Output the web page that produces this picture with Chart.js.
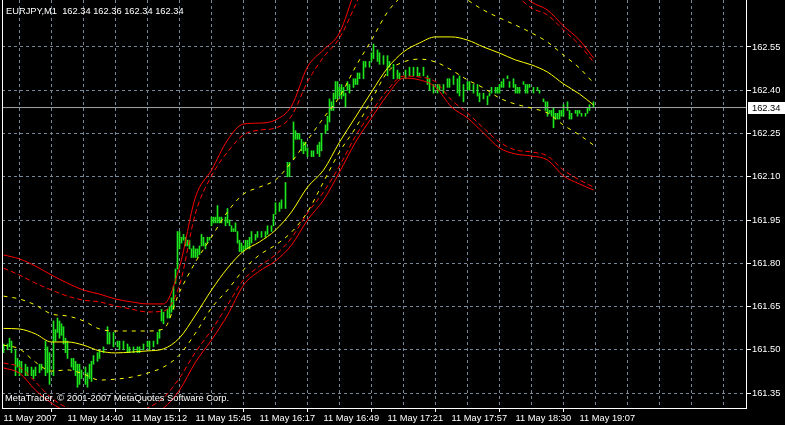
<!DOCTYPE html>
<html>
<head>
<meta charset="utf-8">
<script src="https://cdn.jsdelivr.net/npm/chart.js@4.4.1/dist/chart.umd.min.js"></script>
<style>
  html, body { margin: 0; padding: 0; background: #000; }
  #wrap { width: 785px; height: 425px; }
</style>
</head>
<body>
<div id="wrap"><canvas id="myChart" width="785" height="425"></canvas></div>
<script>
// EURJPY M1, minutes counted from the first bar
const headerText = 'EURJPY,M1  162.34 162.36 162.34 162.34'
const copyrightText = 'MetaTrader, \u00a9 2001-2007 MetaQuotes Software Corp.'
const currentPrice = 162.34

const labelMinutes = [0, 32, 64, 96, 128, 160, 192, 224, 256, 288]
const timeLabels = ['11 May 2007', '11 May 14:40', '11 May 15:12', '11 May 15:45', '11 May 16:17',
  '11 May 16:49', '11 May 17:21', '11 May 17:57', '11 May 18:30', '11 May 19:07']
const priceTicks = [161.35, 161.50, 161.65, 161.80, 161.95, 162.10, 162.25, 162.40, 162.55]

// price bars
const barMinute = [
  0, 2, 3, 4, 6, 7, 8, 9, 11, 12,
  14, 15, 16, 18, 19, 21, 22, 23, 25, 26,
  27, 28, 29, 30, 31, 32, 34, 35, 36, 37,
  38, 39, 41, 42, 43, 44, 45, 47, 48, 50,
  52, 53, 55, 57, 58, 60, 62, 63, 65, 67,
  68, 70, 72, 73, 75, 77, 78, 79, 80, 82,
  83, 84, 85, 86, 87, 88, 89, 90, 91, 92,
  93, 94, 95, 96, 97, 98, 99, 100, 101, 102,
  103, 104, 105, 106, 107, 108, 109, 111, 112, 113,
  114, 115, 116, 117, 118, 119, 120, 121, 122, 123,
  124, 126, 127, 129, 131, 132, 134, 135, 136, 138,
  139, 141, 142, 143, 145, 146, 147, 148, 149, 150,
  151, 152, 154, 155, 157, 158, 159, 161, 162, 163,
  164, 165, 166, 167, 168, 169, 170, 171, 172, 173,
  175, 176, 177, 178, 180, 181, 183, 184, 185, 187,
  188, 190, 192, 193, 195, 197, 198, 201, 203, 205,
  207, 208, 210, 212, 213, 215, 217, 218, 220, 222,
  223, 225, 227, 228, 230, 232, 233, 235, 237, 238,
  240, 242, 243, 244, 246, 247, 248, 249, 250, 252,
  253, 255, 256, 257, 258, 260, 261, 262, 263, 265,
  267, 268, 270, 271, 272, 273, 274, 275, 276, 277,
  278, 279, 280, 282, 283, 284, 286, 287, 288, 289,
  291, 292, 293, 295]
const barHigh = [
  161.52, 161.52, 161.54, 161.53, 161.50, 161.47, 161.46, 161.46, 161.45, 161.44,
  161.44, 161.43, 161.44, 161.45, 161.45, 161.53, 161.51, 161.49, 161.60, 161.57,
  161.61, 161.60, 161.59, 161.58, 161.54, 161.53, 161.47, 161.47, 161.46, 161.45,
  161.45, 161.43, 161.44, 161.42, 161.45, 161.46, 161.48, 161.49, 161.50, 161.51,
  161.58, 161.56, 161.56, 161.53, 161.53, 161.53, 161.52, 161.51, 161.51, 161.51,
  161.51, 161.52, 161.53, 161.53, 161.53, 161.56, 161.57, 161.64, 161.63, 161.64,
  161.65, 161.68, 161.72, 161.78, 161.91, 161.91, 161.89, 161.90, 161.89, 161.88,
  161.88, 161.85, 161.86, 161.85, 161.85, 161.86, 161.90, 161.89, 161.87, 161.89,
  161.89, 161.96, 161.96, 161.96, 162.00, 161.96, 161.96, 161.96, 161.99, 161.95,
  161.93, 161.92, 161.94, 161.91, 161.88, 161.87, 161.86, 161.88, 161.88, 161.89,
  161.91, 161.90, 161.91, 161.91, 161.91, 161.93, 161.93, 161.97, 162.01, 162.01,
  162.02, 162.08, 162.15, 162.15, 162.29, 162.26, 162.25, 162.25, 162.23, 162.22,
  162.22, 162.20, 162.19, 162.19, 162.21, 162.22, 162.25, 162.28, 162.31, 162.37,
  162.36, 162.39, 162.43, 162.43, 162.41, 162.42, 162.41, 162.39, 162.43, 162.42,
  162.44, 162.44, 162.46, 162.46, 162.50, 162.50, 162.50, 162.53, 162.56, 162.54,
  162.53, 162.52, 162.52, 162.50, 162.49, 162.47, 162.46, 162.47, 162.48, 162.48,
  162.48, 162.46, 162.48, 162.45, 162.44, 162.42, 162.42, 162.42, 162.42, 162.44,
  162.44, 162.45, 162.44, 162.45, 162.42, 162.43, 162.43, 162.42, 162.42, 162.39,
  162.39, 162.38, 162.39, 162.41, 162.41, 162.41, 162.42, 162.43, 162.44, 162.45,
  162.43, 162.44, 162.42, 162.41, 162.41, 162.43, 162.42, 162.42, 162.42, 162.41,
  162.41, 162.40, 162.37, 162.36, 162.36, 162.33, 162.33, 162.34, 162.32, 162.32,
  162.33, 162.33, 162.35, 162.36, 162.33, 162.32, 162.33, 162.33, 162.33, 162.32,
  162.32, 162.34, 162.35, 162.36]
const barLow = [
  161.49, 161.50, 161.51, 161.49, 161.41, 161.44, 161.41, 161.42, 161.41, 161.41,
  161.41, 161.40, 161.41, 161.42, 161.43, 161.41, 161.42, 161.38, 161.41, 161.53,
  161.56, 161.54, 161.55, 161.52, 161.49, 161.47, 161.44, 161.43, 161.41, 161.37,
  161.38, 161.40, 161.38, 161.37, 161.40, 161.39, 161.45, 161.46, 161.47, 161.49,
  161.52, 161.52, 161.51, 161.51, 161.50, 161.50, 161.49, 161.49, 161.49, 161.49,
  161.49, 161.50, 161.51, 161.50, 161.51, 161.52, 161.54, 161.60, 161.59, 161.61,
  161.61, 161.63, 161.64, 161.73, 161.78, 161.85, 161.87, 161.88, 161.86, 161.86,
  161.85, 161.82, 161.82, 161.82, 161.82, 161.83, 161.86, 161.86, 161.85, 161.87,
  161.88, 161.93, 161.94, 161.94, 161.94, 161.94, 161.94, 161.93, 161.94, 161.93,
  161.91, 161.91, 161.91, 161.87, 161.84, 161.84, 161.84, 161.85, 161.85, 161.85,
  161.87, 161.88, 161.89, 161.89, 161.89, 161.90, 161.91, 161.93, 161.97, 161.98,
  161.99, 161.99, 162.10, 162.10, 162.16, 162.23, 162.23, 162.23, 162.19, 162.18,
  162.19, 162.17, 162.17, 162.17, 162.18, 162.17, 162.19, 162.25, 162.26, 162.29,
  162.33, 162.33, 162.37, 162.37, 162.38, 162.37, 162.38, 162.34, 162.40, 162.39,
  162.41, 162.42, 162.42, 162.44, 162.44, 162.48, 162.48, 162.50, 162.51, 162.50,
  162.49, 162.49, 162.45, 162.48, 162.44, 162.44, 162.44, 162.44, 162.45, 162.45,
  162.45, 162.45, 162.45, 162.42, 162.40, 162.39, 162.39, 162.40, 162.39, 162.41,
  162.41, 162.42, 162.39, 162.38, 162.36, 162.40, 162.40, 162.39, 162.38, 162.36,
  162.37, 162.35, 162.38, 162.39, 162.39, 162.39, 162.39, 162.41, 162.41, 162.44,
  162.41, 162.41, 162.39, 162.39, 162.39, 162.42, 162.39, 162.39, 162.41, 162.39,
  162.40, 162.39, 162.36, 162.33, 162.31, 162.32, 162.31, 162.27, 162.30, 162.30,
  162.30, 162.31, 162.31, 162.33, 162.30, 162.30, 162.32, 162.31, 162.32, 162.31,
  162.31, 162.32, 162.33, 162.34]

// indicator lines, read every 8 bars
const lineMinutes = [0, 8, 16, 24, 32, 40, 48, 56, 64, 72, 80, 88, 96, 104, 112, 120, 128, 136, 144,
  152, 160, 168, 176, 184, 192, 200, 208, 216, 224, 232, 240, 248, 256, 264, 272, 280, 288, 295]
const maCenter = [161.574, 161.572, 161.555, 161.527, 161.527, 161.516, 161.496, 161.489, 161.492, 161.496,
  161.503, 161.541, 161.620, 161.707, 161.783, 161.842, 161.874, 161.915, 161.978, 162.064,
  162.123, 162.220, 162.307, 162.394, 162.477, 162.533, 162.564, 162.585, 162.585, 162.574,
  162.550, 162.529, 162.505, 162.488, 162.463, 162.422, 162.387, 162.349]
const envUpper = [161.686, 161.676, 161.655, 161.624, 161.617, 161.600, 161.572, 161.565, 161.565, 161.565,
  161.572, 161.700, 161.804, 161.891, 161.978, 162.040, 162.064, 162.089, 162.151, 162.227,
  162.304, 162.377, 162.481, 162.574, 162.671, 162.730, 162.758, 162.765, 162.748, 162.713,
  162.678, 162.651, 162.626, 162.599, 162.567, 162.522, 162.477, 162.425]
const envLower = [161.516, 161.503, 161.457, 161.426, 161.430, 161.416, 161.395, 161.398, 161.405, 161.419,
  161.440, 161.482, 161.558, 161.645, 161.707, 161.777, 161.829, 161.863, 161.908, 161.978,
  162.082, 162.186, 162.269, 162.366, 162.463, 162.498, 162.508, 162.498, 162.470, 162.436,
  162.408, 162.373, 162.352, 162.338, 162.321, 162.279, 162.245, 162.210]
const bandUpper = [161.829, 161.815, 161.790, 161.759, 161.731, 161.707, 161.693, 161.676, 161.666, 161.659,
  161.659, 161.787, 162.030, 162.123, 162.227, 162.283, 162.286, 162.297, 162.345, 162.481,
  162.540, 162.599, 162.748, 162.852, 162.921, 162.956, 162.956, 162.939, 162.904, 162.869,
  162.834, 162.800, 162.755, 162.706, 162.678, 162.623, 162.574, 162.512]
const bandUpperAlt = [161.783, 161.759, 161.731, 161.707, 161.686, 161.672, 161.666, 161.652, 161.641, 161.631,
  161.634, 161.724, 161.974, 162.103, 162.186, 162.245, 162.262, 162.269, 162.311, 162.429,
  162.515, 162.581, 162.696, 162.817, 162.887, 162.921, 162.921, 162.904, 162.869, 162.834,
  162.800, 162.765, 162.730, 162.685, 162.661, 162.609, 162.557, 162.498]
const bandLower = [161.437, 161.419, 161.360, 161.315, 161.284, 161.263, 161.253, 161.253, 161.260, 161.274,
  161.298, 161.360, 161.457, 161.534, 161.620, 161.724, 161.773, 161.808, 161.863, 161.950,
  162.019, 162.116, 162.220, 162.304, 162.384, 162.442, 162.436, 162.411, 162.342, 162.304,
  162.252, 162.200, 162.179, 162.172, 162.158, 162.103, 162.075, 162.054]
const bandLowerAlt = [161.454, 161.440, 161.388, 161.333, 161.298, 161.277, 161.267, 161.267, 161.277, 161.298,
  161.333, 161.402, 161.492, 161.568, 161.655, 161.742, 161.790, 161.829, 161.888, 161.974,
  162.047, 162.137, 162.241, 162.325, 162.401, 162.449, 162.446, 162.429, 162.366, 162.321,
  162.269, 162.220, 162.193, 162.186, 162.172, 162.123, 162.089, 162.064]

const xMin = -0.75
const xMax = 371.25
const gridMinutes = []
for (let m = 0; m <= 368; m += 16) gridMinutes.push(m)

const font = { family: '"Liberation Sans", Arial, sans-serif', size: 9.3 }
const fontCss = '9.3px "Liberation Sans", Arial, sans-serif'
const gridGray = '#778899'

let pts = arr => arr.map((v, i) => ({ x: lineMinutes[i], y: v }))
let line = (arr, color, dash) => ({
  type: 'line', data: pts(arr), borderColor: color, borderWidth: 1, borderDash: dash || [],
  pointRadius: 0, cubicInterpolationMode: 'monotone', order: 1
})

const frame = {
  id: 'frame',
  afterDraw(chart) {
    const { ctx, chartArea: a, scales: { y } } = chart
    ctx.save()
    ctx.strokeStyle = '#fff'
    ctx.lineWidth = 1
    ctx.beginPath()
    ctx.moveTo(a.left + 0.5, a.top)
    ctx.lineTo(a.left + 0.5, a.bottom)
    ctx.stroke()

    const py = Math.round(y.getPixelForValue(currentPrice))
    ctx.fillStyle = '#fff'
    ctx.fillRect(a.right + 2, py - 6, chart.width - a.right - 2, 12)
    ctx.font = fontCss
    ctx.textBaseline = 'middle'
    ctx.fillStyle = '#000'
    ctx.fillText(currentPrice.toFixed(2), a.right + 6, py + 0.5)

    ctx.textBaseline = 'alphabetic'
    ctx.fillStyle = '#fff'
    ctx.fillText(headerText, 6, 14)
    ctx.fillText(copyrightText, 5, 401)
    ctx.restore()
  }
}

const ctx = document.getElementById('myChart')

new Chart(ctx, {
  type: 'bar',
  data: {
    datasets: [
      {
        type: 'bar',
        data: barMinute.map((m, i) => ({ x: m, y: [barLow[i], barHigh[i]] })),
        backgroundColor: '#1ee61e',
        borderWidth: 0,
        barThickness: 1,
        grouped: false,
        order: 3
      },
      {
        type: 'line',
        data: [{ x: xMin, y: currentPrice }, { x: xMax, y: currentPrice }],
        borderColor: '#a4a4a4', borderWidth: 1, pointRadius: 0, order: 2
      },
      line(bandLowerAlt, '#ff0000', [5, 3]),
      line(bandUpperAlt, '#ff0000', [5, 3]),
      line(bandLower, '#ff0000'),
      line(bandUpper, '#ff0000'),
      line(envLower, '#ffff00', [4, 5]),
      line(envUpper, '#ffff00', [4, 5]),
      line(maCenter, '#ffff00')
    ]
  },
  options: {
    responsive: false,
    animation: false,
    devicePixelRatio: 1,
    layout: { padding: { left: 2, top: 0, right: 0, bottom: 0 } },
    plugins: { legend: { display: false }, tooltip: { enabled: false } },
    scales: {
      x: {
        type: 'linear',
        offset: false,
        min: xMin,
        max: xMax,
        afterBuildTicks: s => { s.ticks = gridMinutes.map(v => ({ value: v })) },
        afterFit: s => { s.height = 17; s.paddingLeft = 0; s.paddingRight = 0 },
        ticks: {
          autoSkip: false, maxRotation: 0, minRotation: 0, align: 'start', padding: 1,
          color: '#fff', font: font,
          callback: v => {
            const i = labelMinutes.indexOf(v)
            return i < 0 ? '' : timeLabels[i]
          }
        },
        grid: {
          color: c => (c.tick && c.tick.value === 0) ? 'rgba(0,0,0,0)' : gridGray,
          tickColor: c => (c.tick && labelMinutes.includes(c.tick.value)) ? '#fff' : 'rgba(0,0,0,0)',
          tickLength: 4,
          lineWidth: 1
        },
        border: { color: '#fff', dash: [3, 3] }
      },
      y: {
        position: 'right',
        min: 161.298,
        max: 162.713,
        afterBuildTicks: s => { s.ticks = priceTicks.map(v => ({ value: v })) },
        afterFit: s => { s.width = 39; s.paddingTop = 0; s.paddingBottom = 0 },
        ticks: { color: '#fff', font: font, padding: 1, callback: v => v.toFixed(2) },
        grid: { color: gridGray, tickColor: '#fff', tickLength: 5, lineWidth: 1 },
        border: { color: '#fff', dash: [3, 3] }
      }
    }
  },
  plugins: [frame]
})
</script>
</body>
</html>
